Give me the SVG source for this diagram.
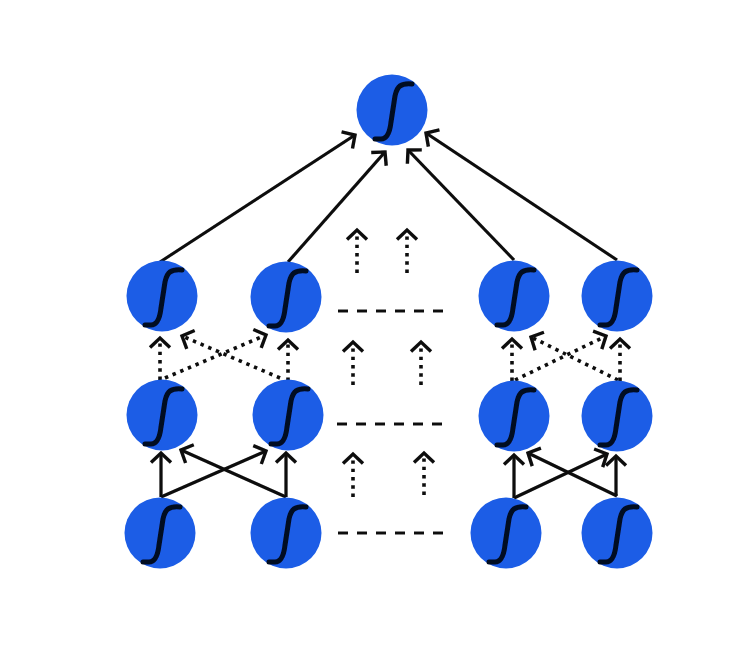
<svg xmlns="http://www.w3.org/2000/svg" width="750" height="646" viewBox="0 0 750 646">
<style>
.n{fill:#1b5de6}
.s{fill:none;stroke:#050a20;stroke-width:5;stroke-linecap:round;stroke-linejoin:round}
.c{fill:none;stroke:#0a0a0a;stroke-width:3.2}
.a{marker-end:url(#h)}
.d{stroke-width:3.6;stroke-dasharray:3.4 4.9}
.l{fill:none;stroke:#111;stroke-width:3;stroke-dasharray:10 9}
</style>
<defs>
<filter id="b" x="0" y="0" width="750" height="646" filterUnits="userSpaceOnUse"><feGaussianBlur stdDeviation="0.6"/></filter>
<marker id="h" markerUnits="userSpaceOnUse" viewBox="-14 -14 18 28" refX="0" refY="0" markerWidth="18" markerHeight="28" orient="auto" overflow="visible"><path d="M-9.5 -10L0 0L-9.5 10" fill="none" stroke="#0a0a0a" stroke-width="3.4"/></marker>
<g id="u"><circle class="n" r="35.5"/><path class="s" d="M-17 29H-11C-4 29 -2 21 -1 12L3 -14C5 -24 9 -27 20 -26"/></g>
</defs>
<rect width="750" height="646" fill="#fff"/>
<g filter="url(#b)">
<g id="connectors">
<path class="c a" d="M160 262L355 135"/>
<path class="c a" d="M288 262L385 152"/>
<path class="c a" d="M514 260L408 150"/>
<path class="c a" d="M617 260L426 133"/>
<path class="c a d" d="M160 380V338"/>
<path class="c a d" d="M165 378L266 335"/>
<path class="c a d" d="M280 378L182 336"/>
<path class="c a d" d="M288 381V340"/>
<path class="c a" d="M161 497V453"/>
<path class="c a" d="M161 497L266 451"/>
<path class="c a" d="M286 497L181 450"/>
<path class="c a" d="M286 497V453"/>
<path class="c a d" d="M512 381V339"/>
<path class="c a d" d="M515 380L606 336"/>
<path class="c a d" d="M618 380L531 337"/>
<path class="c a d" d="M620 381V339"/>
<path class="c a" d="M514 498V455"/>
<path class="c a" d="M514 498L607 454"/>
<path class="c a" d="M617 496L528 453"/>
<path class="c a" d="M616 496V456"/>
<path class="c a d" d="M357 273V230"/>
<path class="c a d" d="M407 273V230"/>
<path class="c a d" d="M353 385V342"/>
<path class="c a d" d="M421 385V342"/>
<path class="c a d" d="M353 497V454"/>
<path class="c a d" d="M424 495V453"/>
<path class="l" d="M338 311H443"/>
<path class="l" d="M337 424H442"/>
<path class="l" d="M338 533H443"/>
</g>
<g id="node-top"><use href="#u" x="392" y="110"/></g>
<g id="node-a1"><use href="#u" x="162" y="296"/></g>
<g id="node-a2"><use href="#u" x="286" y="297"/></g>
<g id="node-a3"><use href="#u" x="514" y="296"/></g>
<g id="node-a4"><use href="#u" x="617" y="296"/></g>
<g id="node-b1"><use href="#u" x="162" y="415"/></g>
<g id="node-b2"><use href="#u" x="288" y="415"/></g>
<g id="node-b3"><use href="#u" x="514" y="416"/></g>
<g id="node-b4"><use href="#u" x="617" y="416"/></g>
<g id="node-c1"><use href="#u" x="160" y="533"/></g>
<g id="node-c2"><use href="#u" x="286" y="533"/></g>
<g id="node-c3"><use href="#u" x="506" y="533"/></g>
<g id="node-c4"><use href="#u" x="617" y="533"/></g>
</g>
</svg>
